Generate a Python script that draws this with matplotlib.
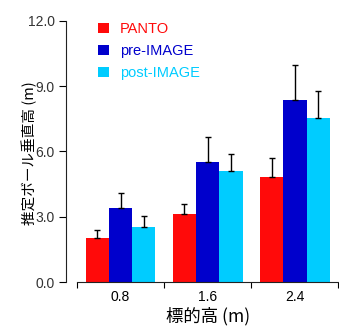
import matplotlib
matplotlib.use('Agg')
import matplotlib.pyplot as plt
import numpy as np

# data
heights = ['0.8', '1.6', '2.4']
series = ['PANTO', 'pre-IMAGE', 'post-IMAGE']
panto = [2.00, 3.14, 4.81]
panto_err = [0.37, 0.46, 0.87]
pre_img = [3.40, 5.53, 8.36]
pre_err = [0.70, 1.13, 1.59]
post_img = [2.51, 5.08, 7.52]
post_err = [0.54, 0.79, 1.27]

colors = ['#ff0a0a', '#0000cc', '#00ccff']

plt.rcParams['font.family'] = ['Liberation Sans', 'Noto Sans CJK JP']

fig = plt.figure(figsize=(3.39, 3.28), dpi=100)
ax = fig.add_axes([77 / 339, 46 / 328, 261.5 / 339, 261.3 / 328])

x = np.arange(len(heights))
w = 0.267
vals = [panto, pre_img, post_img]
errs = [panto_err, pre_err, post_err]
for i in range(3):
    pos = x + (i - 1) * w
    ax.bar(pos, vals[i], width=w, color=colors[i], label=series[i])
    ax.errorbar(pos, vals[i], yerr=[np.zeros(3), errs[i]], fmt='none',
                ecolor='black', elinewidth=1, capsize=2, capthick=1)

ax.set_xlim(-0.5, 2.5)
ax.set_ylim(0, 12)
ax.set_yticks([0, 3, 6, 9, 12])
ax.set_yticklabels(['0.0', '3.0', '6.0', '9.0', '12.0'])
ax.set_xticks([-0.5, 0.5, 1.5, 2.5])
ax.set_xticklabels([])
ax.set_xticks(x, minor=True)
ax.set_xticklabels(heights, minor=True)
ax.tick_params(axis='x', which='minor', length=0, pad=6)
ax.tick_params(axis='x', which='major', length=4, direction='out')
ax.tick_params(axis='y', length=5, direction='out', pad=3)
ax.tick_params(labelsize=10, labelcolor='#333333')

ax.spines['top'].set_visible(False)
ax.spines['right'].set_visible(False)
ax.spines['left'].set_position(('outward', 8))
ax.spines['left'].set_color('#222222')
ax.spines['bottom'].set_color('#222222')

ax.set_ylabel('推定ボール垂直高 (m)', family=['Noto Sans CJK JP'], fontsize=10.5)
ax.yaxis.set_label_coords(-0.152, 0.492)
ax.set_xlabel('標的高 (m)', family=['Noto Sans CJK JP'], fontsize=12.5, labelpad=2)

leg = ax.legend(loc='upper left', bbox_to_anchor=(0.032, 1.045), frameon=False,
                fontsize=10.5, handlelength=0.75, handleheight=0.75,
                handletextpad=0.7, labelspacing=0.55)
for t, c in zip(leg.get_texts(), colors):
    t.set_color(c)

fig.savefig('out.png', dpi=100)
